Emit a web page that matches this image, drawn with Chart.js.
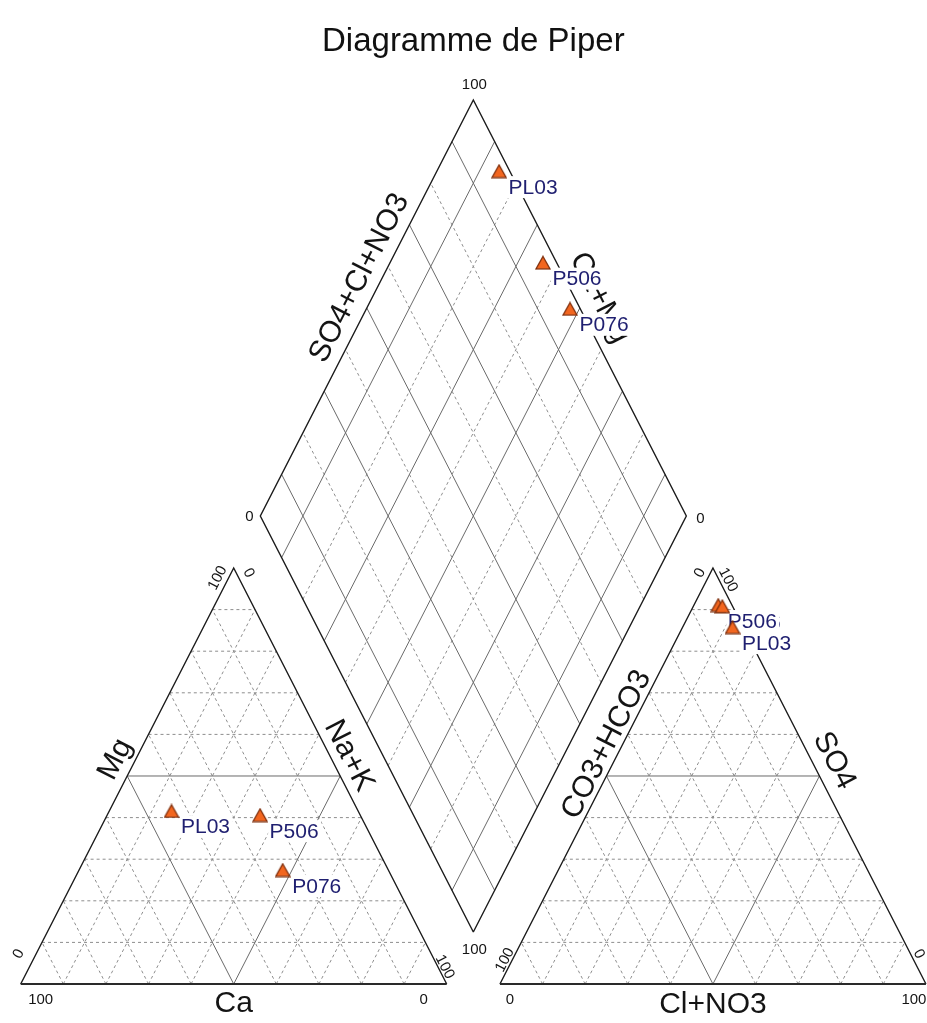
<!DOCTYPE html>
<html lang="fr">
<head>
<meta charset="utf-8">
<title>Diagramme de Piper</title>
<script src="https://cdn.jsdelivr.net/npm/chart.js@4.4.1/dist/chart.umd.min.js"></script>
<style>
  html, body { margin: 0; padding: 0; background: #ffffff; }
  canvas { display: block; }
</style>
</head>
<body>
<canvas id="piper" width="927" height="1023"></canvas>
<script>
// Échantillons (% en méq/l)
const echantillons = ['PL03', 'P506', 'P076'];
// cations
const ca  = [43.8, 23.5, 24.8];
const mg  = [41.6, 40.6, 27.4];
const nak = [14.6, 35.9, 47.8];
// anions
const hco3  = [2.5, 3.2, 2.4];
const so4   = [85.8, 91.1, 90.8];
const clno3 = [11.7, 5.7, 6.8];

// graduations
const gradTriangle = [10, 20, 30, 40, 50, 60, 70, 80, 90];
const gradLosange = [10, 30, 50, 70, 90];
const gradLosangeInter = [20, 40, 60, 80];

const TITRE = 'Diagramme de Piper';
const POLICE = "'Liberation Sans', Arial, sans-serif";

// géométrie du diagramme (unités des axes)
const SIN60 = Math.sqrt(3) / 2;
const COTE = 100;
const HAUT = COTE * SIN60;
const ECART = 12.5;
const X_DROITE = COTE + ECART;
const BAS_LOSANGE = { x: COTE + ECART / 2, y: ECART * SIN60 };

// a = Ca (bas gauche), b = Na+K (bas droite), c = Mg (sommet)
function cationXY(a, b, c) {
  const t = a + b + c;
  return { x: (b + c / 2) / t * COTE, y: c / t * HAUT };
}
// a = CO3+HCO3 (bas gauche), b = Cl+NO3 (bas droite), c = SO4 (sommet)
function anionXY(a, b, c) {
  const t = a + b + c;
  return { x: X_DROITE + (b + c / 2) / t * COTE, y: c / t * HAUT };
}
// s = SO4+Cl+NO3, k = Ca+Mg
function losangeXY(s, k) {
  return {
    x: BAS_LOSANGE.x + (s - k) / 2 * COTE / 100,
    y: BAS_LOSANGE.y + (s + k) * SIN60 * COTE / 100
  };
}

const styles = {
  base:  { borderColor: '#2a2a2a', borderWidth: 2.2, borderDash: [], order: 2 },
  bord:  { borderColor: '#1b1b1b', borderWidth: 1.4, borderDash: [], order: 3 },
  moyen: { borderColor: '#6a6a6a', borderWidth: 1, borderDash: [], order: 4 },
  fin:   { borderColor: '#8e8e8e', borderWidth: 1, borderDash: [3, 3], order: 5 }
};

const datasets = [];
function trait(points, genre) {
  datasets.push(Object.assign({
    data: points,
    showLine: true,
    pointRadius: 0,
    pointHoverRadius: 0,
    fill: false,
    tension: 0,
    clip: false
  }, styles[genre]));
}

function grilleTriangle(xy) {
  gradTriangle.forEach(k => {
    const genre = k === 50 ? 'moyen' : 'fin';
    trait([xy(100 - k, 0, k), xy(0, 100 - k, k)], genre);
    trait([xy(100 - k, k, 0), xy(0, k, 100 - k)], genre);
    trait([xy(k, 100 - k, 0), xy(k, 0, 100 - k)], genre);
  });
  trait([xy(0, 100, 0), xy(0, 0, 100), xy(100, 0, 0)], 'bord');
  trait([xy(100, 0, 0), xy(0, 100, 0)], 'base');
}
grilleTriangle(cationXY);
grilleTriangle(anionXY);

gradLosangeInter.forEach(k => {
  trait([losangeXY(k, 0), losangeXY(k, 100)], 'fin');
  trait([losangeXY(0, k), losangeXY(100, k)], 'fin');
});
gradLosange.forEach(k => {
  trait([losangeXY(k, 0), losangeXY(k, 100)], 'moyen');
  trait([losangeXY(0, k), losangeXY(100, k)], 'moyen');
});
trait([losangeXY(0, 0), losangeXY(100, 0), losangeXY(100, 100), losangeXY(0, 100), losangeXY(0, 0)], 'bord');

// marqueur triangulaire
const marqueur = (() => {
  const c = document.createElement('canvas');
  c.width = 16; c.height = 15;
  const g = c.getContext('2d');
  g.beginPath();
  g.moveTo(8, 1.2); g.lineTo(15, 13.8); g.lineTo(1, 13.8); g.closePath();
  g.fillStyle = '#f2661f'; g.fill();
  g.strokeStyle = '#7a2a08'; g.lineWidth = 1.2; g.stroke();
  return c;
})();

const ptsCations = echantillons.map((n, i) => cationXY(ca[i], nak[i], mg[i]));
const ptsAnions = echantillons.map((n, i) => anionXY(hco3[i], clno3[i], so4[i]));
const ptsLosange = echantillons.map((n, i) => {
  const ta = hco3[i] + so4[i] + clno3[i];
  const tc = ca[i] + mg[i] + nak[i];
  return losangeXY((so4[i] + clno3[i]) / ta * 100, (ca[i] + mg[i]) / tc * 100);
});

[ptsCations, ptsAnions, ptsLosange].forEach(pts => {
  datasets.unshift({
    echantillon: true,
    data: pts,
    pointStyle: marqueur,
    pointRadius: 8,
    pointHoverRadius: 8,
    showLine: false,
    order: 0
  });
});

// titres des axes, le long des côtés
const titresAxes = [
  { texte: 'Mg', a: cationXY(100, 0, 0), b: cationXY(0, 0, 100), t: 0.52, d: 18 },
  { texte: 'Na+K', a: cationXY(0, 0, 100), b: cationXY(0, 100, 0), t: 0.47, d: 17 },
  { texte: 'CO3+HCO3', a: anionXY(100, 0, 0), b: anionXY(0, 0, 100), t: 0.56, d: 14 },
  { texte: 'SO4', a: anionXY(0, 0, 100), b: anionXY(0, 100, 0), t: 0.485, d: 20 },
  { texte: 'SO4+Cl+NO3', a: losangeXY(0, 100), b: losangeXY(100, 100), t: 0.55, d: 20 },
  { texte: 'Ca+Mg', a: losangeXY(100, 100), b: losangeXY(100, 0), t: 0.5, d: 22 },
  { texte: 'Ca', a: cationXY(100, 0, 0), b: cationXY(0, 100, 0), t: 0.5, d: -20, plat: true },
  { texte: 'Cl+NO3', a: anionXY(100, 0, 0), b: anionXY(0, 100, 0), t: 0.5, d: -21, plat: true }
];

// graduations 0 / 100 aux sommets (rot : 0 horizontal, g côté gauche, d côté droit)
const etiquettesSommets = [
  { texte: '100', p: cationXY(100, 0, 0), dx: 20, dy: 16, rot: 0 },
  { texte: '0', p: cationXY(0, 100, 0), dx: -23, dy: 16, rot: 0 },
  { texte: '0', p: cationXY(100, 0, 0), dx: -2, dy: -30, rot: 'g' },
  { texte: '100', p: cationXY(0, 100, 0), dx: -2, dy: -17, rot: 'd' },
  { texte: '100', p: cationXY(0, 0, 100), dx: -16, dy: 10, rot: 'g' },
  { texte: '0', p: cationXY(0, 0, 100), dx: 15, dy: 5, rot: 'd' },
  { texte: '0', p: anionXY(100, 0, 0), dx: 10, dy: 16, rot: 0 },
  { texte: '100', p: anionXY(0, 100, 0), dx: -12, dy: 16, rot: 0 },
  { texte: '100', p: anionXY(100, 0, 0), dx: 5, dy: -24, rot: 'g' },
  { texte: '0', p: anionXY(0, 100, 0), dx: -7, dy: -30, rot: 'd' },
  { texte: '0', p: anionXY(0, 0, 100), dx: -13, dy: 5, rot: 'g' },
  { texte: '100', p: anionXY(0, 0, 100), dx: 15, dy: 12, rot: 'd' },
  { texte: '100', p: losangeXY(100, 100), dx: 1, dy: -15, rot: 0 },
  { texte: '0', p: losangeXY(0, 100), dx: -11, dy: 1, rot: 0 },
  { texte: '0', p: losangeXY(100, 0), dx: 14, dy: 3, rot: 0 },
  { texte: '100', p: losangeXY(0, 0), dx: 1, dy: 18, rot: 0 }
];

function versPixel(chart, p) {
  return { x: chart.scales.x.getPixelForValue(p.x), y: chart.scales.y.getPixelForValue(p.y) };
}

function dessinerTextes(chart) {
  const ctx = chart.ctx;
  ctx.save();
  ctx.fillStyle = '#141414';

  // titre, centré sur le sommet du losange
  const haut = versPixel(chart, losangeXY(100, 100));
  ctx.font = '33px ' + POLICE;
  ctx.textAlign = 'center';
  ctx.textBaseline = 'middle';
  ctx.fillStyle = '#111111';
  ctx.fillText(TITRE, haut.x, 42);
  ctx.fillStyle = '#141414';

  titresAxes.forEach(ax => {
    const A = versPixel(chart, ax.a), B = versPixel(chart, ax.b);
    const dx = B.x - A.x, dy = B.y - A.y;
    const ang = ax.plat ? 0 : Math.atan2(dy, dx);
    const ux = Math.sin(ang), uy = -Math.cos(ang);
    ctx.save();
    ctx.translate(A.x + dx * ax.t + ux * ax.d, A.y + dy * ax.t + uy * ax.d);
    ctx.rotate(ang);
    ctx.font = '30px ' + POLICE;
    ctx.textAlign = 'center';
    ctx.textBaseline = 'middle';
    ctx.fillText(ax.texte, 0, 0);
    ctx.restore();
  });

  const bg = versPixel(chart, cationXY(100, 0, 0));
  const sommet = versPixel(chart, cationXY(0, 0, 100));
  const angG = Math.atan2(sommet.y - bg.y, sommet.x - bg.x);
  etiquettesSommets.forEach(e => {
    const P = versPixel(chart, e.p);
    ctx.save();
    ctx.translate(P.x + e.dx, P.y + e.dy);
    ctx.rotate(e.rot === 'g' ? angG : e.rot === 'd' ? -angG : 0);
    ctx.font = '15px ' + POLICE;
    ctx.textAlign = 'center';
    ctx.textBaseline = 'middle';
    ctx.fillText(e.texte, 0, 0);
    ctx.restore();
  });

  // noms des échantillons sur fond blanc
  ctx.font = '21px ' + POLICE;
  ctx.textAlign = 'left';
  ctx.textBaseline = 'alphabetic';
  const ordre = [2, 1, 0];
  [ptsCations, ptsAnions, ptsLosange].forEach(pts => {
    ordre.forEach(i => {
      const P = versPixel(chart, pts[i]);
      const w = ctx.measureText(echantillons[i]).width;
      ctx.fillStyle = '#ffffff';
      ctx.fillRect(P.x + 8, P.y + 5, w + 4, 22);
      ctx.fillStyle = '#1f1f70';
      ctx.fillText(echantillons[i], P.x + 9.5, P.y + 22.5);
    });
  });
  ctx.restore();
}

const habillage = {
  id: 'habillage',
  beforeDraw(chart) { chart.$textesFaits = false; },
  beforeDatasetDraw(chart, args) {
    const ds = chart.data.datasets[args.index];
    if (ds.echantillon && !chart.$textesFaits) {
      dessinerTextes(chart);
      chart.$textesFaits = true;
    }
  }
};

// échelles : 4,26 px par unité en x, 4,80 px en y (le dessin original est étiré)
const PX_X = 4.26, X0 = 20.7;
const PX_Y = 4.8036, Y0 = 984, HAUT_TITRE = 61.4;

new Chart(document.getElementById('piper'), {
  type: 'scatter',
  data: { datasets },
  options: {
    responsive: false,
    devicePixelRatio: 1,
    animation: false,
    events: [],
    layout: { padding: { top: HAUT_TITRE, left: 0, right: 0, bottom: 0 }, autoPadding: false },
    scales: {
      x: { type: 'linear', display: false, min: -X0 / PX_X, max: (927 - X0) / PX_X },
      y: { type: 'linear', display: false, min: -(1023 - Y0) / PX_Y, max: (Y0 - HAUT_TITRE) / PX_Y }
    },
    plugins: {
      legend: { display: false },
      tooltip: { enabled: false },
      title: { display: false }
    }
  },
  plugins: [habillage]
});
</script>
</body>
</html>
